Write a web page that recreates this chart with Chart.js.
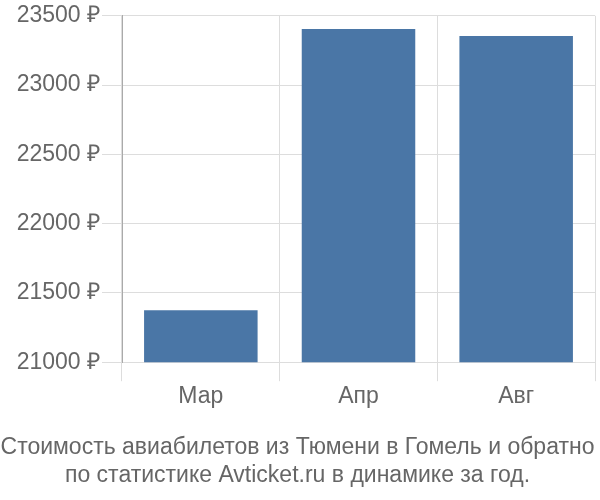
<!DOCTYPE html>
<html>
<head>
<meta charset="utf-8">
<script src="https://cdn.jsdelivr.net/npm/chart.js@4"></script>
<style>
  html, body { margin: 0; padding: 0; background: #fff; }
  #wrap { width: 600px; height: 500px; }
</style>
</head>
<body>
<div id="wrap"><canvas id="priceChart" width="600" height="500"></canvas></div>
<script>
// данные графика
const months = ["Мар", "Апр", "Авг"];
const prices = [21375, 23405, 23355];
const titleLines = [
    "Стоимость авиабилетов из Тюмени в Гомель и обратно",
    "по статистике Avticket.ru в динамике за год."
];

Chart.defaults.font.family = "'Liberation Sans', Arial, sans-serif";
Chart.defaults.color = "#666";

let ctx = document.getElementById("priceChart").getContext("2d");

new Chart(ctx, {
    type: "bar",
    data: {
        labels: months,
        datasets: [
            {
                data: prices,
                backgroundColor: "#4a76a6",
                categoryPercentage: 0.9,
                barPercentage: 0.8
            }
        ]
    },
    options: {
        responsive: false,
        animation: false,
        layout: {
            padding: { left: 0, right: 5, top: 2, bottom: 0 }
        },
        plugins: {
            legend: { display: false },
            tooltip: { enabled: false },
            title: {
                display: true,
                position: "bottom",
                text: titleLines,
                color: "#666",
                font: { size: 23, weight: "normal" },
                lineHeight: 1.25,
                padding: { top: 21, bottom: 11 }
            }
        },
        scales: {
            x: {
                grid: {
                    color: "#ddd",
                    tickLength: 19,
                    offset: true
                },
                border: { color: "#ddd" },
                ticks: {
                    font: { size: 23 },
                    color: "#666",
                    padding: 2
                }
            },
            y: {
                min: 21000,
                max: 23500,
                afterFit: (scale) => { scale.width = 122; },
                grid: {
                    color: "#ddd",
                    tickLength: 20
                },
                border: { color: "#aaa" },
                ticks: {
                    stepSize: 500,
                    font: { size: 23 },
                    color: "#666",
                    padding: 2,
                    callback: (v) => v + " ₽"
                }
            }
        }
    }
});
</script>
</body>
</html>
